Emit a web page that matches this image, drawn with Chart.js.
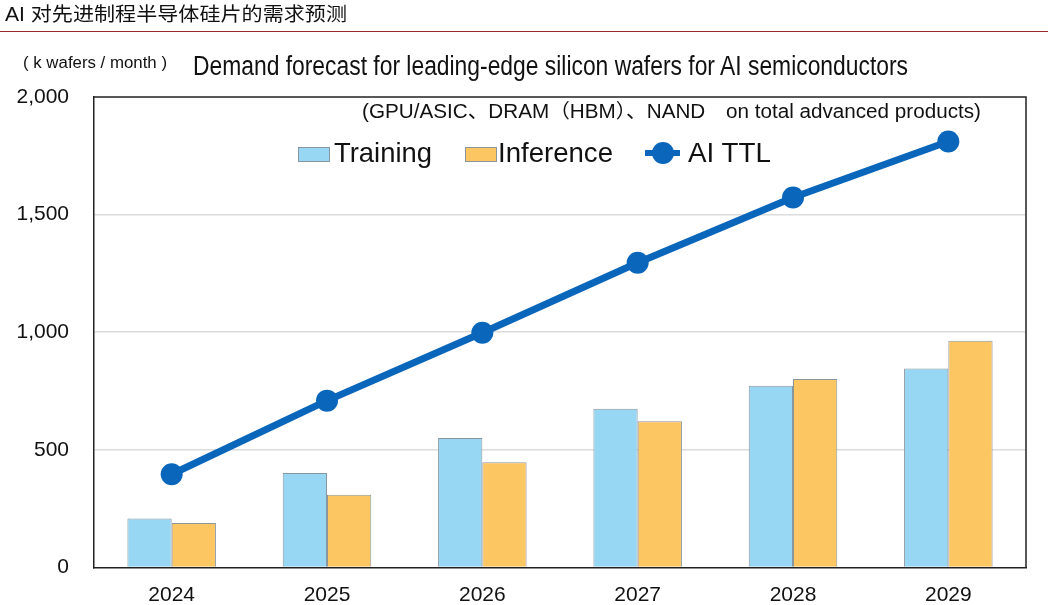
<!DOCTYPE html>
<html><head><meta charset="utf-8">
<script src="https://cdn.jsdelivr.net/npm/chart.js@4/dist/chart.umd.min.js"></script>
<style>
html,body{margin:0;padding:0;background:#fff;}
#wrap{position:relative;width:1048px;height:605px;overflow:hidden;font-family:"Liberation Sans",Arial,sans-serif;color:#111;}
#c{position:absolute;left:0;top:0;width:1048px;height:605px;}
.t{position:absolute;white-space:nowrap;line-height:1;transform-origin:0 0;display:inline-block;}
.box{position:absolute;border:1px solid #8a969e;box-sizing:border-box;}
</style></head><body>
<div id="wrap">
<canvas id="c" width="1048" height="605"></canvas>
<div class="t" id="hdr" style="left:5px;top:5px;font-size:19.5px;font-family:'Liberation Sans','Noto Sans CJK SC',sans-serif;">AI 对先进制程半导体硅片的需求预测</div>
<div style="position:absolute;left:0;top:31px;width:1048px;height:1px;background:#9b2b2b;"></div>
<div class="t" id="unit" style="left:23px;top:55px;font-size:16px;">( k wafers / month )</div>
<div class="t" id="title" style="left:193px;top:53px;font-size:27px;">Demand forecast for leading-edge silicon wafers for AI semiconductors</div>
<div class="t" id="sub" style="left:362px;top:102px;font-size:19.5px;font-family:'Liberation Sans','Noto Sans CJK SC',sans-serif;">(GPU/ASIC、DRAM（HBM）、NAND　on total advanced products)</div>
<div class="box" id="lb1" style="left:298px;top:147px;width:32px;height:15px;"></div>
<div class="t" id="lt1" style="left:334px;top:139px;font-size:27.5px;">Training</div>
<div class="box" id="lb2" style="left:465px;top:147px;width:32px;height:15px;"></div>
<div class="t" id="lt2" style="left:498px;top:139px;font-size:27.5px;">Inference</div>
<div id="lm1" style="position:absolute;left:645px;top:150px;width:35px;height:6px;"></div>
<div id="lm2" style="position:absolute;left:652px;top:142px;width:22px;height:22px;border-radius:50%;"></div>
<div class="t" id="lt3" style="left:688px;top:139px;font-size:27.5px;">AI TTL</div>
</div>
<script>
const categories = ['2024', '2025', '2026', '2027', '2028', '2029'];
const training = [208, 401, 550, 675, 772, 846];
const inference = [189, 309, 447, 621, 801, 964];
const aiTotal = [396, 709, 998, 1295, 1573, 1811];
const yTicks = [0, 500, 1000, 1500, 2000];

const C_TRAIN = '#97d7f4';
const C_INF = '#fcc762';
const C_LINE = '#0a66bb';
const C_BORDER = '#8a969e';

document.getElementById('lb1').style.background = C_TRAIN;
document.getElementById('lb2').style.background = C_INF;
document.getElementById('lm1').style.background = C_LINE;
document.getElementById('lm2').style.background = C_LINE;

function fit(id, w) {
  const el = document.getElementById(id);
  el.style.transform = '';
  const r = el.getBoundingClientRect().width;
  el.style.transform = 'scaleX(' + (w / r) + ')';
}
fit('hdr', 342); fit('unit', 144); fit('title', 715); fit('sub', 619);
fit('lt1', 98); fit('lt2', 115); fit('lt3', 83);

const framePlugin = {
  id: 'frame',
  beforeDatasetsDraw(chart) {
    const a = chart.chartArea, ctx = chart.ctx;
    ctx.save();
    ctx.strokeStyle = '#222';
    ctx.lineWidth = 1.5;
    ctx.beginPath();
    ctx.moveTo(a.left, a.top); ctx.lineTo(a.right, a.top); ctx.lineTo(a.right, a.bottom);
    ctx.stroke();
    ctx.restore();
  }
};

const FONT = '"Liberation Sans", Arial, sans-serif';
new Chart(document.getElementById('c'), {
  type: 'bar',
  data: {
    labels: categories,
    datasets: [
      { type: 'line', label: 'AI TTL', data: aiTotal, borderColor: C_LINE, backgroundColor: C_LINE,
        borderWidth: 7, pointRadius: 11, pointBackgroundColor: C_LINE, pointBorderWidth: 0, order: 0 },
      { label: 'Training', data: training, backgroundColor: C_TRAIN, borderColor: C_BORDER, borderWidth: 1, order: 1 },
      { label: 'Inference', data: inference, backgroundColor: C_INF, borderColor: C_BORDER, borderWidth: 1, order: 1 }
    ]
  },
  options: {
    responsive: false, animation: false, devicePixelRatio: 1,
    datasets: { bar: { barPercentage: 1, categoryPercentage: 0.57 } },
    layout: { padding: { left: 0, right: 22, top: 97, bottom: 0 } },
    plugins: { legend: { display: false }, tooltip: { enabled: false } },
    scales: {
      x: {
        grid: { display: false, drawTicks: false },
        border: { display: true, color: '#222', width: 1.5 },
        ticks: { font: { family: FONT, size: 21 }, color: '#111', padding: 15 },
        afterFit(s) { s.height = 37; }
      },
      y: {
        min: 0, max: 2000,
        afterBuildTicks(s) { s.ticks = yTicks.map(v => ({ value: v })); },
        grid: { color: ctx => (ctx.tick && (ctx.tick.value === 0 || ctx.tick.value === 2000)) ? 'rgba(0,0,0,0)' : '#dcdcdc', lineWidth: 1.5, drawTicks: false },
        border: { display: true, color: '#222', width: 1.5 },
        ticks: { font: { family: FONT, size: 21 }, color: '#111', padding: 25, callback: v => Number(v).toLocaleString('en-US') },
        afterFit(s) { s.width = 94; }
      }
    }
  },
  plugins: [framePlugin]
});
</script>
</body></html>
